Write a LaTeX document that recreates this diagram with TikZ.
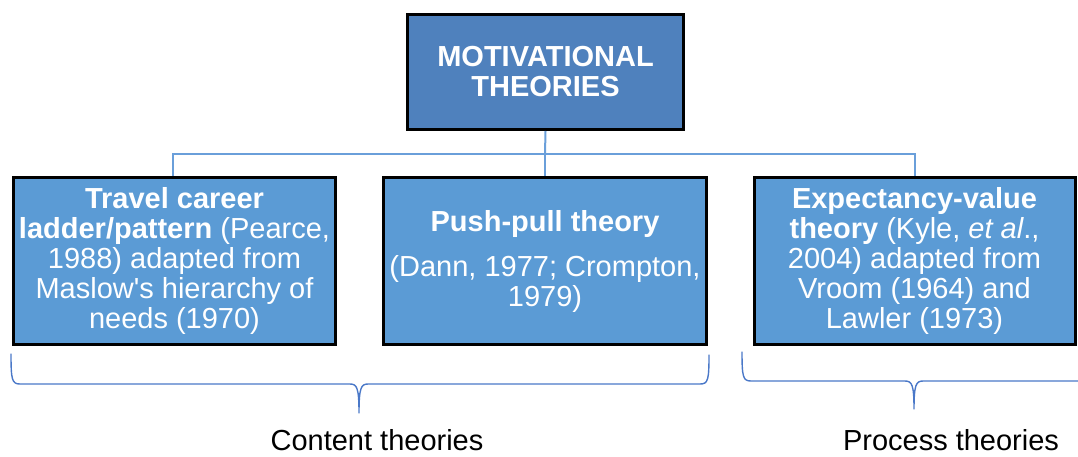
\documentclass[tikz,border=0pt]{standalone}
\usepackage{fontspec}
\setmainfont{Liberation Sans}
\definecolor{topblue}{HTML}{4F81BD}
\definecolor{boxblue}{HTML}{5B9BD5}
\definecolor{linkblue}{HTML}{6A9FDA}
\definecolor{braceblue}{HTML}{4A78C8}

\begin{document}
\begin{tikzpicture}[x=1pt,y=-1pt,
  theorybox/.style={draw=black, line width=3pt, fill=boxblue, text=white,
    align=center, inner sep=0pt, minimum height=167pt,
    font=\fontsize{29}{30}\selectfont},
  link/.style={draw=linkblue, line width=2pt},
  bracket/.style={draw=braceblue, line width=1.4pt, line cap=round, line join=round},
  caption/.style={font=\fontsize{29}{30}\selectfont, text=black, inner sep=0pt}]
\useasboundingbox (0,0) rectangle (1078,457);

% root of the tree
\node[theorybox, fill=topblue, minimum width=276pt, minimum height=115pt]
  (root) at (545.5,72) {\textbf{MOTIVATIONAL}\\\textbf{THEORIES}};

% the three theory boxes
\node[theorybox, minimum width=322pt] (career) at (174.5,261)
  {\textbf{Travel career}\\\textbf{ladder/pattern} (Pearce,\\1988) adapted from\\Maslow\textquotesingle s hierarchy of\\needs (1970)};
\node[theorybox, minimum width=323pt] (pushpull) at (545,261)
  {\textbf{Push-pull theory}\\[15pt](Dann, 1977; Crompton,\\1979)};
\node[theorybox, minimum width=321pt] (expect) at (914.5,261)
  {\textbf{Expectancy-value}\\\textbf{theory} (Kyle, \textit{et al}.,\\2004) adapted from\\Vroom (1964) and\\Lawler (1973)};

% tree connectors
\coordinate (bus) at (545,154);
\draw[link] (root.south) -- (bus);
\draw[link] (career.north -| 173,0) |- (expect.north |- bus) -- (expect.north);
\draw[link] (bus) -- (pushpull.north);

% grouping braces
\coordinate (contentTip) at (359,413);
\coordinate (processTip) at (914,409);
\draw[bracket] (11,354) .. controls (11,380) and (12,384) .. (20,384) -- (350,384)
  .. controls (357,384) and (359,388) .. (contentTip)
  .. controls (359,388) and (361,384) .. (368,384) -- (700,384)
  .. controls (708,384) and (709,380) .. (709,355);
\draw[bracket] (742,352) .. controls (742,377) and (743,381) .. (751,381) -- (905,381)
  .. controls (912,381) and (914,385) .. (processTip)
  .. controls (914,385) and (916,381) .. (923,381) -- (1078,381);

% group captions
\node[caption] (content) at (377,440) {Content theories};
\node[caption] (process) at (951,440) {Process theories};
\end{tikzpicture}
\end{document}
